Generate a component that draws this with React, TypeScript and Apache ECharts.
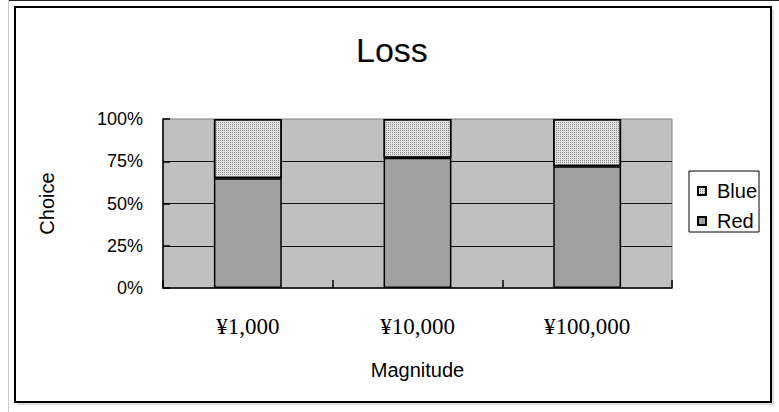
import React, { useEffect, useRef } from "react";
import * as echarts from "echarts";

const categories = ["¥1,000", "¥10,000", "¥100,000"];
const redValues = [65, 77, 72];
const blueValues = [35, 23, 28];
const yTicks = [0, 25, 50, 75, 100];

const SANS = "'Liberation Sans', Arial, sans-serif";
const SERIF = "'Liberation Serif', 'Times New Roman', serif";

export default function App() {
  const ref = useRef<HTMLDivElement>(null);
  useEffect(() => {
    if (!ref.current) return;
    const chart = echarts.init(ref.current, undefined, { renderer: "svg" });
    chart.setOption({
      animation: false,
      backgroundColor: "#ffffff",
      title: {
        text: "Loss",
        left: 356,
        top: 33,
        padding: 0,
        textStyle: { fontFamily: SANS, fontSize: 34, fontWeight: "normal", color: "#000" },
      },
      legend: {
        orient: "vertical",
        left: 689,
        top: 171,
        data: ["Blue", "Red"],
        icon: "rect",
        itemWidth: 8,
        itemHeight: 8,
        itemGap: 10,
        padding: [10, 2, 1, 8],
        borderColor: "#000",
        borderWidth: 1,
        backgroundColor: "#fff",
        textStyle: { fontFamily: SANS, fontSize: 20, color: "#000", padding: [0, 0, 0, 6] },
      },
      grid: {
        left: 163,
        top: 119,
        width: 509,
        height: 169,
        show: true,
        backgroundColor: "#C0C0C0",
        borderColor: "#808080",
        borderWidth: 1,
      },
      xAxis: {
        type: "category",
        data: categories,
        boundaryGap: true,
        name: "Magnitude",
        nameLocation: "middle",
        nameGap: 72,
        nameTextStyle: { fontFamily: SANS, fontSize: 20, color: "#000" },
        axisLine: { show: true, lineStyle: { color: "#000", width: 1.5 } },
        axisTick: { show: true, inside: true, length: 8, lineStyle: { color: "#000", width: 1.5 } },
        axisLabel: { fontFamily: SERIF, fontSize: 23, color: "#000", margin: 27 },
        splitLine: { show: false },
      },
      yAxis: {
        type: "value",
        min: yTicks[0],
        max: yTicks[yTicks.length - 1],
        interval: 25,
        name: "Choice",
        nameLocation: "middle",
        nameGap: 106,
        nameTextStyle: { fontFamily: SANS, fontSize: 20, color: "#000" },
        axisLine: { show: true, lineStyle: { color: "#000", width: 1.5 } },
        axisTick: { show: true, inside: true, length: 7, lineStyle: { color: "#000", width: 1.5 } },
        axisLabel: { fontFamily: SANS, fontSize: 18, color: "#000", margin: 20, formatter: "{value}%" },
        splitLine: { show: true, showMaxLine: false, showMinLine: false, lineStyle: { color: "#111", width: 1.2 } },
      },
      series: [
        {
          name: "Red",
          type: "bar",
          stack: "total",
          data: redValues,
          barWidth: "40%",
          itemStyle: { color: "#A0A0A0", borderColor: "#000", borderWidth: 1.5 },
        },
        {
          name: "Blue",
          type: "bar",
          stack: "total",
          data: blueValues,
          barWidth: "40%",
          itemStyle: {
            color: "#E2E2E2",
            borderColor: "#000",
            borderWidth: 1.5,
            decal: {
              symbol: "rect",
              symbolSize: 1,
              color: "#8C8C8C",
              dashArrayX: [1, 1],
              dashArrayY: [1, 1],
              rotation: 0,
            },
          },
        },
      ],
      graphic: [
        { type: "line", shape: { x1: 8, y1: 0.5, x2: 779, y2: 0.5 }, style: { stroke: "#222", lineWidth: 1 } },
        { type: "line", shape: { x1: 8.5, y1: 0, x2: 8.5, y2: 412 }, style: { stroke: "#c8c8c8", lineWidth: 1 } },
        { type: "rect", shape: { x: 15, y: 7, width: 756, height: 395 }, style: { fill: "none", stroke: "#000", lineWidth: 2 }, silent: true },
        { type: "line", shape: { x1: 773, y1: 9, x2: 773, y2: 404 }, style: { stroke: "#bbb", lineWidth: 1 } },
        { type: "line", shape: { x1: 17, y1: 404, x2: 773, y2: 404 }, style: { stroke: "#bbb", lineWidth: 1 } },
      ],
    });
    return () => chart.dispose();
  }, []);
  return (
    <div
      ref={ref}
      style={{ position: "absolute", left: 0, top: 0, width: 779, height: 412 }}
    />
  );
}
